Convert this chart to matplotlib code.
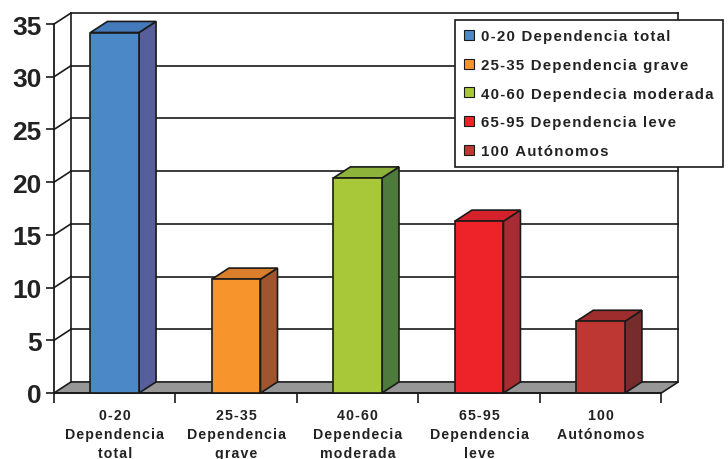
import matplotlib
matplotlib.use("Agg")
import matplotlib.pyplot as plt
from matplotlib.patches import Polygon, Patch

plt.rcParams['font.family'] = ['Liberation Sans', 'DejaVu Sans']
plt.rcParams['font.weight'] = 'bold'

# grupos de dependencia (índice de Barthel)
categorias = ["0-20\nDependencia\ntotal", "25-35\nDependencia\ngrave",
              "40-60\nDependecia\nmoderada", "65-95\nDependencia\nleve",
              "100\nAutónomos"]
leyenda = ["0-20 Dependencia total", "25-35 Dependencia grave",
           "40-60 Dependecia moderada", "65-95 Dependencia leve",
           "100 Autónomos"]
valores = [34.2, 10.8, 20.4, 16.3, 6.8]

# colores: frente, lateral, tapa
frente = ["#4a88c8", "#f7942b", "#a8c83a", "#ee2229", "#bf3732"]
lateral = ["#565e9c", "#a0552e", "#4e7a3c", "#a82a32", "#772c2c"]
tapa = ["#4479ba", "#d97f2b", "#8db33a", "#d5222a", "#a02d2d"]

YMAX = 35
DX, DY = 0.14, 1.05      # profundidad del efecto 3D (unidades de datos)
ANCHO = 0.40
LINEA = "#1a1a1a"


def espaciado(texto):
    # separa las letras con un espacio muy fino
    return "\n".join("\u200a".join(linea) for linea in texto.split("\n"))


fig = plt.figure(figsize=(7.28, 4.6), dpi=100)
ax = fig.add_axes([54 / 728, (460 - 394) / 460, 628 / 728, 382 / 460])
ax.set_xlim(-0.5, 4.67)
ax.set_ylim(0, 36.24)
for s in ax.spines.values():
    s.set_visible(False)

x0, x1 = -0.5, len(valores) - 0.5

# suelo gris
ax.add_patch(Polygon([(x0, 0), (x1, 0), (x1 + DX, DY), (x0 + DX, DY)],
                     closed=True, facecolor="#979797", edgecolor=LINEA,
                     lw=1.2, zorder=1, clip_on=False))

# pared lateral y del fondo con líneas de división
for v in range(5, YMAX + 1, 5):
    ax.plot([x0, x0 + DX], [v, v + DY], color=LINEA, lw=1.2, zorder=1, clip_on=False)
    ax.plot([x0 + DX, x1 + DX], [v + DY, v + DY], color=LINEA, lw=1.2, zorder=1,
            clip_on=False)
ax.plot([x0 + DX, x0 + DX], [DY, YMAX + DY], color=LINEA, lw=1.2, zorder=1, clip_on=False)
ax.plot([x1 + DX, x1 + DX], [DY, YMAX + DY], color=LINEA, lw=1.2, zorder=1, clip_on=False)
ax.plot([x0, x0], [0, YMAX], color=LINEA, lw=1.3, zorder=1, clip_on=False)
ax.plot([x0, x1], [0, 0], color=LINEA, lw=1.3, zorder=1, clip_on=False)

# barras 3D
xs = list(range(len(valores)))
barras = ax.bar(xs, valores, width=ANCHO, color=frente, edgecolor=LINEA,
                lw=1.2, zorder=4, clip_on=False)
for x, v, cl, ct in zip(xs, valores, lateral, tapa):
    l, r = x - ANCHO / 2, x + ANCHO / 2
    ax.add_patch(Polygon([(r, 0), (r + DX, DY), (r + DX, v + DY), (r, v)],
                         closed=True, facecolor=cl, edgecolor=LINEA, lw=1.2,
                         zorder=3, clip_on=False))
    ax.add_patch(Polygon([(l, v), (r, v), (r + DX, v + DY), (l + DX, v + DY)],
                         closed=True, facecolor=ct, edgecolor=LINEA, lw=1.2,
                         zorder=3, clip_on=False))

# ejes
ax.set_yticks(range(0, YMAX + 1, 5))
ax.tick_params(axis="y", direction="out", length=6, width=1.2, color=LINEA,
               pad=3, labelsize=19, labelcolor="#222222")
ax.set_xticks(xs)
ax.set_xticklabels([espaciado(c) for c in categorias], fontsize=10.2,
                   linespacing=1.45, color="#222222")
ax.set_xticks([i - 0.5 for i in range(len(valores) + 1)], minor=True)
ax.tick_params(axis="x", which="major", length=0, pad=11)
ax.tick_params(axis="x", which="minor", direction="out", length=7, width=1.2,
               color=LINEA)

handles = [Patch(facecolor=c, edgecolor=LINEA, lw=0.8) for c in frente]
leg = fig.legend(handles, [espaciado(t) for t in leyenda], loc="upper left",
                 bbox_to_anchor=(455 / 728, 1 - 21 / 460), fontsize=10.8,
                 frameon=True, fancybox=False, framealpha=1, edgecolor=LINEA,
                 handlelength=0.65, handleheight=0.65, handletextpad=0.45,
                 labelspacing=0.98, borderpad=0.62, borderaxespad=0)
leg.get_frame().set_linewidth(1.2)
for t in leg.get_texts():
    t.set_color("#222222")

fig.savefig("out.png", dpi=100)
